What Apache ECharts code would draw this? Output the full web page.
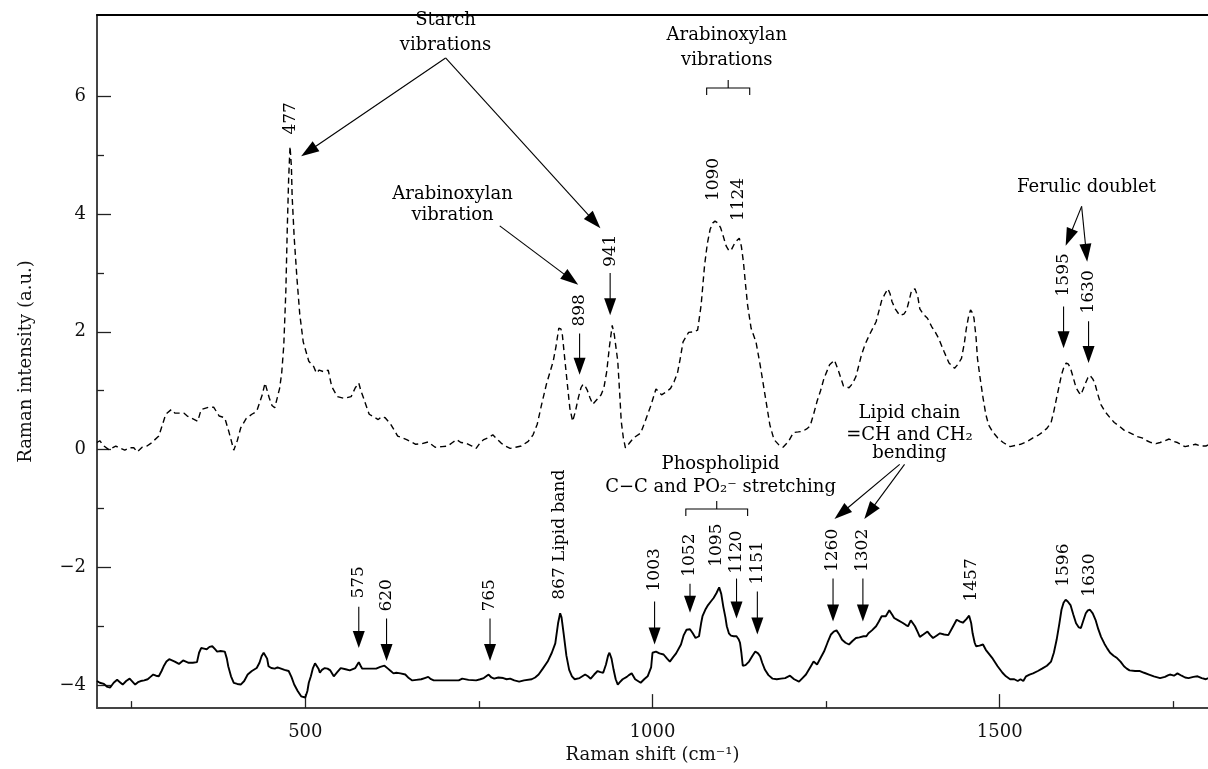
<!DOCTYPE html>
<html><head><meta charset="utf-8">
<script src="https://cdn.jsdelivr.net/npm/echarts@6/dist/echarts.min.js"></script>
<style>html,body{margin:0;padding:0;background:#fff}#c{width:1208px;height:769px}</style>
</head><body><div id="c"></div>
<script>
// ---- axis ticks ----
const majorShiftTicks = [500, 1000, 1500];
const minorShiftTicks = [250, 750, 1250, 1750];
const majorIntensityTicks = [-4, -2, 0, 2, 4, 6];
const minorIntensityTicks = [-3, -1, 1, 3, 5];

// ---- upper (dashed) spectrum ----
const upperShift = [200,204,210,217,227,234,240,247,253,258,265,272,278,289,295,299,307,312,317,325,330,335,345,350,361,368,376,384,390,397,402,407,415,423,430,438,442,448,452,456,463,466,469,472,474,476,478,480,481,484,488,492,497,505,512,516,520,527,533,538,546,556,566,572,577,580,584,592,605,610,615,623,633,646,659,668,677,687,697,705,712,718,724,731,740,746,752,757,763,770,776,782,788,795,803,811,821,828,834,840,847,852,857,861,865,868,870,874,878,881,885,889,893,897,900,903,906,910,914,920,926,930,934,938,942,945,950,953,955,958,961,966,973,983,990,998,1005,1013,1020,1026,1031,1036,1040,1044,1052,1060,1065,1070,1075,1079,1083,1087,1090,1094,1098,1102,1106,1110,1113,1119,1125,1128,1131,1134,1137,1142,1149,1155,1162,1169,1175,1182,1188,1196,1203,1210,1216,1222,1227,1232,1237,1242,1247,1255,1262,1268,1275,1283,1288,1293,1301,1306,1312,1322,1330,1335,1339,1342,1345,1350,1356,1362,1366,1370,1373,1378,1382,1385,1390,1396,1402,1407,1412,1420,1427,1435,1440,1445,1449,1452,1455,1458,1461,1463,1466,1468,1472,1476,1480,1484,1490,1497,1505,1515,1522,1530,1540,1548,1555,1561,1568,1574,1578,1582,1586,1589,1593,1596,1599,1602,1606,1610,1614,1617,1620,1624,1627,1630,1634,1637,1641,1646,1652,1659,1665,1672,1679,1685,1692,1698,1705,1712,1718,1725,1731,1738,1744,1750,1756,1762,1767,1775,1782,1790,1797,1800];
const upperIntensity = [0.12,0.15,0.06,0.0,0.06,0.02,-0.01,0.03,0.03,-0.04,0.04,0.06,0.11,0.23,0.45,0.6,0.68,0.62,0.62,0.62,0.57,0.54,0.48,0.68,0.72,0.72,0.57,0.54,0.3,-0.01,0.15,0.37,0.53,0.6,0.65,0.93,1.13,0.88,0.75,0.71,1.04,1.3,1.77,2.7,3.74,4.6,5.15,4.8,4.31,3.6,2.9,2.3,1.83,1.5,1.41,1.3,1.35,1.32,1.35,1.07,0.9,0.87,0.9,1.05,1.13,1.0,0.87,0.6,0.51,0.56,0.54,0.43,0.23,0.17,0.09,0.1,0.13,0.04,0.05,0.06,0.12,0.17,0.12,0.11,0.06,0.02,0.12,0.17,0.2,0.25,0.18,0.11,0.06,0.02,0.04,0.06,0.14,0.25,0.43,0.75,1.1,1.3,1.5,1.75,2.06,2.05,1.97,1.5,1.04,0.7,0.48,0.65,0.87,1.05,1.11,1.08,1.01,0.88,0.77,0.85,0.93,1.05,1.32,1.75,2.11,1.95,1.5,0.9,0.48,0.2,0.03,0.1,0.2,0.28,0.5,0.76,1.03,0.93,0.98,1.04,1.15,1.3,1.55,1.83,1.99,2.0,2.03,2.45,3.13,3.5,3.74,3.85,3.88,3.85,3.77,3.62,3.46,3.38,3.38,3.52,3.59,3.45,3.18,2.8,2.45,2.06,1.83,1.44,0.93,0.42,0.17,0.08,0.04,0.14,0.29,0.3,0.31,0.35,0.4,0.6,0.82,1.0,1.21,1.44,1.52,1.33,1.08,1.05,1.12,1.24,1.61,1.78,1.94,2.17,2.53,2.65,2.73,2.65,2.51,2.38,2.28,2.3,2.37,2.55,2.7,2.73,2.6,2.39,2.3,2.23,2.09,2.0,1.89,1.66,1.47,1.38,1.45,1.55,1.8,2.06,2.25,2.37,2.32,2.23,1.9,1.55,1.2,0.88,0.6,0.42,0.3,0.2,0.12,0.05,0.07,0.09,0.14,0.2,0.24,0.29,0.36,0.46,0.65,0.88,1.1,1.27,1.42,1.47,1.45,1.38,1.22,1.05,0.97,0.93,1.02,1.14,1.22,1.26,1.2,1.13,0.95,0.76,0.64,0.54,0.46,0.4,0.33,0.3,0.26,0.22,0.2,0.15,0.12,0.1,0.12,0.15,0.18,0.14,0.12,0.08,0.05,0.07,0.09,0.06,0.06,0.08];

// ---- lower (solid) spectrum ----
const lowerShift = [200,204,210,215,219,224,229,233,237,242,247,251,255,259,263,268,273,277,281,285,289,293,296,300,304,308,312,318,324,328,332,338,344,347,350,354,358,362,366,370,373,378,384,387,389,393,397,402,407,412,417,423,430,434,437,440,442,445,447,451,456,460,463,470,476,480,484,489,494,500,503,505,508,511,514,516,519,521,524,528,532,536,541,546,551,558,564,572,575,577,580,582,590,602,608,614,619,623,627,631,637,644,649,654,660,667,672,677,681,685,700,710,721,726,735,746,752,757,764,768,772,778,785,790,795,801,808,815,826,831,836,842,849,855,860,864,867,869,872,876,880,884,888,895,903,907,911,916,921,925,929,933,936,938,941,944,947,950,953,957,963,966,970,975,979,983,988,993,998,1000,1005,1010,1016,1021,1025,1030,1034,1041,1045,1049,1054,1058,1062,1067,1070,1072,1076,1080,1084,1088,1092,1096,1099,1102,1105,1107,1110,1113,1117,1121,1124,1126,1128,1130,1134,1139,1144,1148,1152,1155,1158,1162,1167,1173,1179,1185,1191,1198,1204,1211,1216,1221,1227,1232,1237,1242,1247,1252,1257,1261,1265,1269,1273,1278,1283,1288,1293,1298,1304,1308,1311,1316,1322,1326,1330,1336,1341,1345,1348,1354,1360,1365,1368,1372,1375,1378,1382,1385,1390,1396,1400,1404,1409,1414,1420,1426,1432,1438,1443,1447,1452,1456,1459,1461,1464,1466,1471,1476,1480,1484,1490,1497,1504,1509,1515,1521,1526,1530,1534,1538,1543,1548,1555,1561,1568,1574,1578,1582,1586,1589,1592,1595,1598,1602,1606,1610,1614,1617,1620,1624,1627,1630,1634,1638,1642,1646,1651,1655,1659,1664,1669,1674,1679,1683,1687,1695,1702,1708,1715,1722,1731,1738,1743,1746,1751,1756,1762,1767,1772,1779,1785,1791,1797,1800];
const lowerIntensity = [-3.93,-3.96,-3.98,-4.03,-4.04,-3.96,-3.91,-3.95,-3.99,-3.93,-3.89,-3.94,-3.99,-3.95,-3.93,-3.92,-3.9,-3.86,-3.82,-3.84,-3.85,-3.76,-3.68,-3.6,-3.56,-3.58,-3.6,-3.64,-3.58,-3.6,-3.62,-3.62,-3.61,-3.45,-3.37,-3.38,-3.39,-3.35,-3.34,-3.39,-3.43,-3.42,-3.43,-3.55,-3.68,-3.85,-3.96,-3.98,-3.99,-3.93,-3.82,-3.76,-3.71,-3.62,-3.51,-3.45,-3.44,-3.55,-3.68,-3.71,-3.72,-3.7,-3.71,-3.74,-3.76,-3.86,-3.99,-4.1,-4.19,-4.21,-4.1,-3.96,-3.85,-3.71,-3.63,-3.62,-3.72,-3.79,-3.74,-3.71,-3.72,-3.75,-3.85,-3.78,-3.71,-3.73,-3.75,-3.71,-3.65,-3.61,-3.68,-3.72,-3.72,-3.72,-3.69,-3.67,-3.72,-3.76,-3.8,-3.79,-3.8,-3.82,-3.88,-3.92,-3.91,-3.9,-3.88,-3.86,-3.9,-3.92,-3.92,-3.92,-3.92,-3.89,-3.91,-3.92,-3.9,-3.88,-3.82,-3.87,-3.89,-3.87,-3.88,-3.9,-3.89,-3.92,-3.94,-3.92,-3.9,-3.87,-3.82,-3.72,-3.6,-3.45,-3.29,-2.95,-2.78,-2.85,-3.12,-3.5,-3.74,-3.85,-3.9,-3.88,-3.82,-3.85,-3.89,-3.82,-3.76,-3.78,-3.79,-3.65,-3.5,-3.45,-3.55,-3.74,-3.9,-3.99,-3.95,-3.9,-3.86,-3.83,-3.8,-3.9,-3.93,-3.96,-3.9,-3.85,-3.7,-3.45,-3.43,-3.46,-3.48,-3.55,-3.6,-3.52,-3.46,-3.31,-3.15,-3.06,-3.05,-3.12,-3.2,-3.17,-2.95,-2.83,-2.72,-2.64,-2.58,-2.52,-2.44,-2.34,-2.45,-2.67,-2.85,-3.0,-3.12,-3.16,-3.17,-3.17,-3.22,-3.28,-3.45,-3.67,-3.66,-3.6,-3.5,-3.43,-3.46,-3.51,-3.62,-3.74,-3.83,-3.89,-3.9,-3.89,-3.88,-3.84,-3.9,-3.94,-3.88,-3.82,-3.7,-3.6,-3.65,-3.54,-3.43,-3.28,-3.14,-3.09,-3.07,-3.14,-3.23,-3.28,-3.31,-3.25,-3.2,-3.19,-3.17,-3.17,-3.12,-3.07,-3.0,-2.92,-2.83,-2.83,-2.73,-2.8,-2.86,-2.9,-2.94,-2.98,-3.0,-2.9,-2.95,-3.0,-3.1,-3.18,-3.14,-3.09,-3.15,-3.2,-3.16,-3.12,-3.14,-3.15,-3.02,-2.89,-2.92,-2.94,-2.88,-2.82,-2.95,-3.12,-3.28,-3.34,-3.33,-3.31,-3.4,-3.46,-3.55,-3.68,-3.79,-3.85,-3.9,-3.9,-3.93,-3.9,-3.93,-3.85,-3.82,-3.8,-3.76,-3.72,-3.67,-3.6,-3.45,-3.23,-2.95,-2.72,-2.6,-2.55,-2.58,-2.64,-2.8,-2.95,-3.02,-3.03,-2.92,-2.78,-2.73,-2.72,-2.78,-2.89,-3.05,-3.18,-3.3,-3.38,-3.45,-3.5,-3.54,-3.6,-3.68,-3.72,-3.75,-3.76,-3.76,-3.79,-3.82,-3.85,-3.88,-3.86,-3.83,-3.82,-3.84,-3.8,-3.84,-3.87,-3.88,-3.86,-3.85,-3.88,-3.9,-3.88];

// ---- peak labels (vertical), in data units ----
const peakLabels     = ['477','898','941','1090','1124','1595','1630','575','620','765','867 Lipid band','1003','1052','1095','1120','1151','1260','1302','1457','1596','1630'];
const peakLabelShift = [479,895,939,1088,1124,1592,1628,577,617,766,866,1003,1054,1093,1121,1151,1260,1303,1459,1592,1630];
const peakLabelBase  = [5.35,2.09,3.10,4.22,3.88,2.60,2.31,-2.53,-2.75,-2.75,-2.55,-2.41,-2.16,-1.99,-2.11,-2.29,-2.08,-2.08,-2.58,-2.33,-2.50];
const peakArrowStart = [null,1.97,3.0,null,null,2.43,2.18,-2.67,-2.87,-2.87,null,-2.58,-2.28,null,-2.19,-2.41,-2.19,-2.19,null,null,null];
const peakArrowTip   = [null,1.27,2.28,null,null,1.72,1.47,-3.37,-3.59,-3.59,null,-3.31,-2.77,null,-2.87,-3.14,-2.92,-2.92,null,null,null];

// ---- notes (horizontal text) ----
const noteTexts = ['Starch','vibrations','Arabinoxylan','vibration','Arabinoxylan','vibrations','Ferulic doublet','Lipid chain','=CH and CH\u2082','bending','Phospholipid','C\u2212C and PO\u2082\u207B stretching'];
const noteShift = [702,702,712,712,1107,1107,1625,1370,1370,1370,1098,1098];
const noteLevel = [7.29,6.87,4.34,3.98,7.04,6.61,4.45,0.62,0.25,-0.07,-0.25,-0.64];

// ---- pointer arrows ----
const pointerFromShift = [702,702,780,1618,1618,1356,1363];
const pointerFromLevel = [6.65,6.65,3.80,4.13,4.13,-0.25,-0.25];
const pointerToShift   = [494,925,893,1595,1626,1262,1305];
const pointerToLevel   = [4.98,3.76,2.80,3.46,3.19,-1.18,-1.18];

// ---- brackets ----
const bracketFrom  = [1078, 1048];
const bracketTo    = [1140, 1137];
const bracketLevel = [6.14, -1.01];

const FONT = '"DejaVu Serif", serif';
const chart = echarts.init(document.getElementById('c'));
const fmt = v => (v < 0 ? '\u2212' + Math.abs(v) : String(v));
const upperData = upperShift.map((x, i) => [x, upperIntensity[i]]);
const lowerData = lowerShift.map((x, i) => [x, lowerIntensity[i]]);
const AX = '#444';

chart.setOption({
  animation: false,
  backgroundColor: '#fff',
  grid: { left: 97, right: 0, top: 15, bottom: 57, containLabel: false },
  xAxis: [
    { type: 'value', min: 200, max: 1800, position: 'bottom', offset: 0,
      name: 'Raman shift (cm\u207B\u00B9)', nameLocation: 'middle', nameGap: 29,
      nameTextStyle: { fontFamily: FONT, fontSize: 18, color: '#111' },
      axisLine: { show: true, onZero: false, lineStyle: { color: AX, width: 2 } },
      axisTick: { show: true, inside: true, length: 14, customValues: majorShiftTicks, lineStyle: { color: '#222', width: 1.3 } },
      axisLabel: { show: true, customValues: majorShiftTicks, margin: 15, fontFamily: FONT, fontSize: 18, color: '#111', formatter: fmt },
      splitLine: { show: false } },
    { type: 'value', min: 200, max: 1800, position: 'bottom', offset: 0,
      axisLine: { show: false, onZero: false },
      axisTick: { show: true, inside: true, length: 7, customValues: minorShiftTicks, lineStyle: { color: '#222', width: 1.3 } },
      axisLabel: { show: false }, splitLine: { show: false } },
    { type: 'value', min: 200, max: 1800, position: 'top', offset: 0,
      axisLine: { show: true, onZero: false, lineStyle: { color: '#000', width: 2 } },
      axisTick: { show: false }, axisLabel: { show: false }, splitLine: { show: false } }
  ],
  yAxis: [
    { type: 'value', min: -4.39, max: 7.38, position: 'left', offset: 0,
      name: 'Raman intensity (a.u.)', nameLocation: 'middle', nameRotate: 90, nameGap: 62,
      nameTextStyle: { fontFamily: FONT, fontSize: 18, color: '#111' },
      axisLine: { show: true, onZero: false, lineStyle: { color: AX, width: 2 } },
      axisTick: { show: true, inside: true, length: 14, customValues: majorIntensityTicks, lineStyle: { color: '#222', width: 1.3 } },
      axisLabel: { show: true, customValues: majorIntensityTicks, margin: 11, fontFamily: FONT, fontSize: 18, color: '#111', formatter: fmt },
      splitLine: { show: false } },
    { type: 'value', min: -4.39, max: 7.38, position: 'left', offset: 0,
      axisLine: { show: false, onZero: false },
      axisTick: { show: true, inside: true, length: 7, customValues: minorIntensityTicks, lineStyle: { color: '#222', width: 1.3 } },
      axisLabel: { show: false }, splitLine: { show: false } }
  ],
  series: [
    { type: 'line', xAxisIndex: 0, yAxisIndex: 0, data: upperData, symbol: 'none', showSymbol: false, silent: true,
      lineStyle: { color: '#000', width: 1.4, type: [6, 4] }, z: 3 },
    { type: 'line', xAxisIndex: 0, yAxisIndex: 0, data: lowerData, symbol: 'none', showSymbol: false, silent: true,
      lineStyle: { color: '#000', width: 1.9 }, z: 3 }
  ]
});

// ---- annotations through the axes' own scales ----
const toPx = (x, y) => chart.convertToPixel({ xAxisIndex: 0, yAxisIndex: 0 }, [x, y]);
const els = [];
const LINE = { stroke: '#000', lineWidth: 1.1 };
function arrow(p1, p2, headLen, halfW) {
  const dx = p2[0] - p1[0], dy = p2[1] - p1[1];
  const L = Math.hypot(dx, dy) || 1;
  const ux = dx / L, uy = dy / L;
  const bx = p2[0] - ux * headLen, by = p2[1] - uy * headLen;
  els.push({ type: 'line', z: 100, shape: { x1: p1[0], y1: p1[1], x2: bx + ux * 2, y2: by + uy * 2 }, style: LINE });
  els.push({ type: 'polygon', z: 100, shape: { points: [[p2[0], p2[1]], [bx - uy * halfW, by + ux * halfW], [bx + uy * halfW, by - ux * halfW]] }, style: { fill: '#000' } });
}
peakLabels.forEach((t, i) => {
  const p = toPx(peakLabelShift[i], peakLabelBase[i]);
  els.push({ type: 'text', z: 100, x: p[0], y: p[1], rotation: Math.PI / 2,
    style: { text: t, fontFamily: FONT, fontSize: 17, fill: '#000', align: 'left', verticalAlign: 'middle' } });
  if (peakArrowStart[i] !== null) {
    arrow(toPx(peakLabelShift[i], peakArrowStart[i]), toPx(peakLabelShift[i], peakArrowTip[i]), 17, 6);
  }
});
noteTexts.forEach((t, i) => {
  const p = toPx(noteShift[i], noteLevel[i]);
  els.push({ type: 'text', z: 100, x: p[0], y: p[1],
    style: { text: t, fontFamily: FONT, fontSize: 18, fill: '#000', align: 'center', verticalAlign: 'middle' } });
});
pointerFromShift.forEach((x, i) => {
  arrow(toPx(x, pointerFromLevel[i]), toPx(pointerToShift[i], pointerToLevel[i]), 18, 6);
});
bracketFrom.forEach((x, i) => {
  const a = toPx(x, bracketLevel[i]), b = toPx(bracketTo[i], bracketLevel[i]);
  const mid = (a[0] + b[0]) / 2;
  els.push({ type: 'polyline', z: 100, shape: { points: [[a[0], a[1] + 7], [a[0], a[1]], [b[0], b[1]], [b[0], b[1] + 7]] }, style: LINE });
  els.push({ type: 'line', z: 100, shape: { x1: mid, y1: a[1], x2: mid, y2: a[1] - 8 }, style: LINE });
});
chart.setOption({ graphic: { elements: els } });
</script>
</body></html>
